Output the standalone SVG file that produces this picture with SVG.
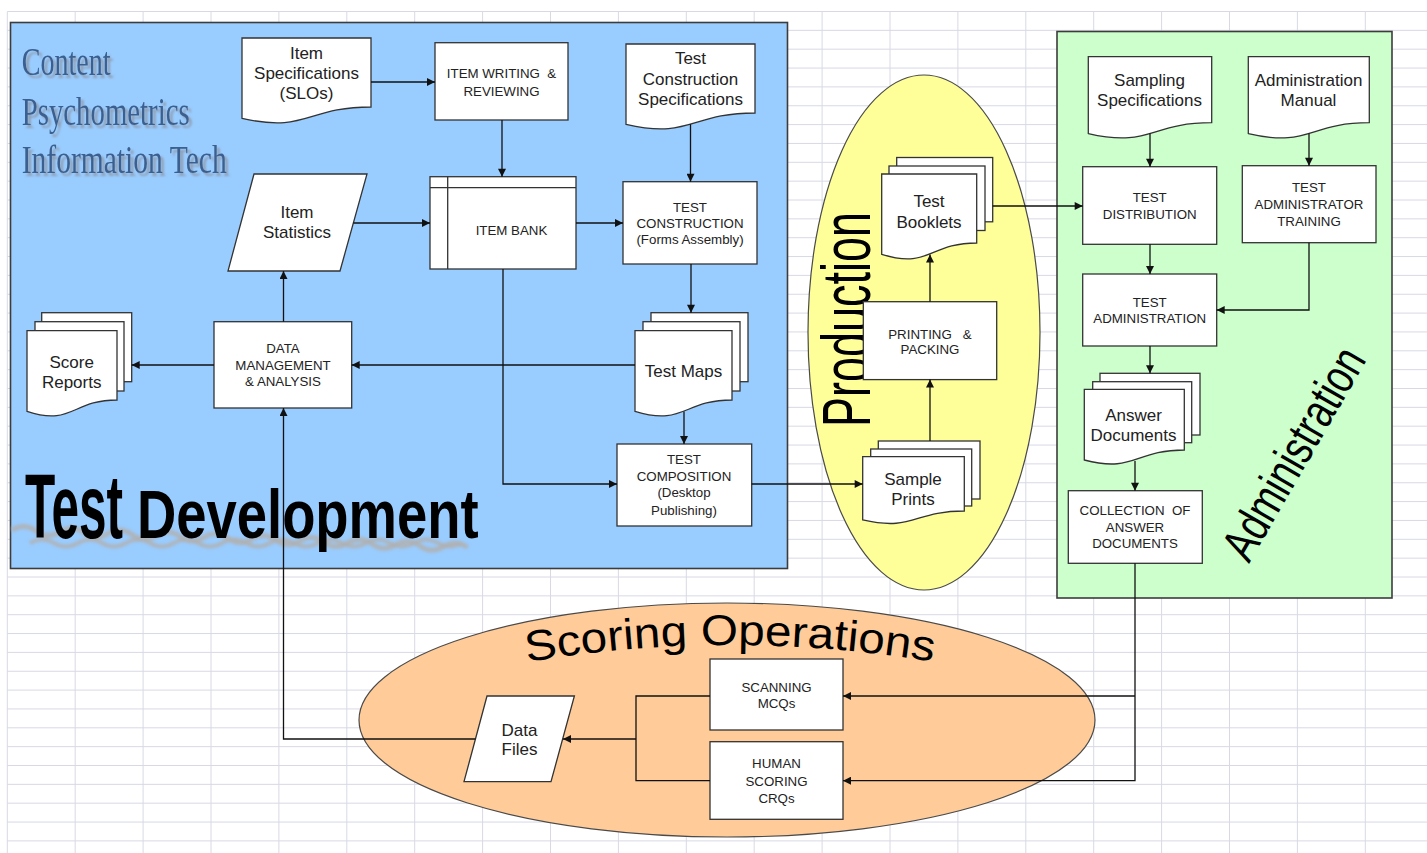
<svg xmlns="http://www.w3.org/2000/svg" width="1427" height="853" viewBox="0 0 1427 853">
<defs>
<style>
.grid{fill:none;stroke:#d8d9e5;stroke-width:1}
.panel{stroke:#3c3c3c;stroke-width:1.6}
.ell{stroke:#4a4a4a;stroke-width:1.2}
.box{fill:#fff;stroke:#333;stroke-width:1.3}
.lbl{font-family:"Liberation Sans",Arial,sans-serif;font-size:13.3px;text-anchor:middle;fill:#222}
.dl{font-family:"Liberation Sans",Arial,sans-serif;font-size:17px;text-anchor:middle;fill:#222}
.conn{fill:none;stroke:#111;stroke-width:1.3}
.big{font-family:"Liberation Sans",Arial,sans-serif;fill:#000}
.ttl{font-family:"Liberation Serif","Times New Roman",serif;font-size:40px;fill:#3b6190}
.pre{white-space:pre}
</style>
<marker id="ah" markerUnits="userSpaceOnUse" markerWidth="9" markerHeight="8" viewBox="0 0 10 10" refX="10" refY="5" orient="auto">
<path d="M0,0 L10,5 L0,10 z" fill="#111"/>
</marker>
<filter id="shd" x="-10%" y="-20%" width="130%" height="150%">
<feDropShadow dx="3" dy="3" stdDeviation="1.2" flood-color="#8e98a8" flood-opacity="0.9"/>
</filter>
<filter id="blur" x="-5%" y="-50%" width="110%" height="200%">
<feGaussianBlur stdDeviation="1.5"/>
</filter>
<path id="scoreArc" d="M527,662 Q730,628 934,662"/>
</defs>

<rect x="0" y="0" width="1427" height="853" fill="#fff"/>
<path class="grid" d="M7.3,11.5V853M75.2,11.5V853M143.1,11.5V853M211,11.5V853M278.9,11.5V853M346.8,11.5V853M414.7,11.5V853M482.6,11.5V853M550.5,11.5V853M618.4,11.5V853M686.3,11.5V853M754.2,11.5V853M822.1,11.5V853M890,11.5V853M957.9,11.5V853M1025.8,11.5V853M1093.7,11.5V853M1161.6,11.5V853M1229.5,11.5V853M1297.4,11.5V853M1365.3,11.5V853
M7.3,11.5H1427M7.3,30.35H1427M7.3,49.2H1427M7.3,68.05H1427M7.3,86.9H1427M7.3,105.75H1427M7.3,124.6H1427M7.3,143.45H1427M7.3,162.3H1427M7.3,181.15H1427M7.3,200H1427M7.3,218.85H1427M7.3,237.7H1427M7.3,256.55H1427M7.3,275.4H1427M7.3,294.25H1427M7.3,313.1H1427M7.3,331.95H1427M7.3,350.8H1427M7.3,369.65H1427M7.3,388.5H1427M7.3,407.35H1427M7.3,426.2H1427M7.3,445.05H1427M7.3,463.9H1427M7.3,482.75H1427M7.3,501.6H1427M7.3,520.45H1427M7.3,539.3H1427M7.3,558.15H1427M7.3,577H1427M7.3,595.85H1427M7.3,614.7H1427M7.3,633.55H1427M7.3,652.4H1427M7.3,671.25H1427M7.3,690.1H1427M7.3,708.95H1427M7.3,727.8H1427M7.3,746.65H1427M7.3,765.5H1427M7.3,784.35H1427M7.3,803.2H1427M7.3,822.05H1427M7.3,840.9H1427"/>

<g id="areas">
<rect id="test-development-area" class="panel" x="10.5" y="22.5" width="777" height="546" fill="#99ccff"/>
<rect id="administration-area" class="panel" x="1057" y="31.5" width="335" height="566.5" fill="#ccffcc"/>
<ellipse id="production-area" class="ell" cx="924" cy="332.5" rx="116" ry="257.5" fill="#ffff99"/>
<ellipse id="scoring-area" class="ell" cx="727" cy="720" rx="368" ry="117" fill="#ffcc99"/>
</g>

<g id="titles">
<g filter="url(#shd)">
<text class="ttl" x="21.7" y="75" textLength="89" lengthAdjust="spacingAndGlyphs">Content</text>
<text class="ttl" x="21.7" y="125" textLength="168" lengthAdjust="spacingAndGlyphs">Psychometrics</text>
<text class="ttl" x="21.7" y="173" textLength="205" lengthAdjust="spacingAndGlyphs">Information Tech</text>
</g>
<g filter="url(#blur)" fill="none" stroke="#b0b0b0" stroke-opacity="0.85">
<path d="M12,530 q12,-8 24,0 t24,0 t24,0 t24,0 t24,0 t24,0 t24,0 t24,0 t24,0 t24,0 t24,0 t24,0 t24,0 t24,0 t24,0 t24,0 t24,0 t24,0 t24,0" stroke-width="5" transform="rotate(2.2 12 530)"/>
<path d="M30,543 q12,-7 24,0 t24,0 t24,0 t24,0 t24,0 t24,0 t24,0 t24,0 t24,0 t24,0 t24,0 t24,0 t24,0 t24,0 t24,0 t24,0 t24,0 t24,0" stroke-width="4"/>
</g>
<text class="big" transform="translate(25,538) scale(0.55,1)" x="0" y="0" font-size="90" font-weight="bold">Test</text>
<text class="big" transform="translate(137,538) scale(0.8,1)" x="0" y="0" font-size="68" font-weight="bold">Development</text>
<text class="big" transform="translate(870,427) rotate(-90)" x="0" y="0" font-size="68" textLength="215" lengthAdjust="spacingAndGlyphs">Production</text>
<text class="big" transform="translate(1249,564) rotate(-60)" x="0" y="0" font-size="49" textLength="236" lengthAdjust="spacingAndGlyphs">Administration</text>
<text class="big" font-size="43"><textPath href="#scoreArc" textLength="408" lengthAdjust="spacingAndGlyphs">Scoring Operations</textPath></text>
</g>

<g id="item-specifications">
<path class="box" d="M242,38 H371 V107 C306.5,107 306.5,133.2 242,118.3 Z"/>
<text class="dl" x="306.5" y="59">Item</text>
<text class="dl" x="306.5" y="79">Specifications</text>
<text class="dl" x="306.5" y="99">(SLOs)</text>
</g>
<g id="item-writing">
<rect class="box" x="435" y="42.7" width="133" height="77.3"/>
<text class="lbl pre" x="501.5" y="78">ITEM WRITING  &amp;</text>
<text class="lbl" x="501.5" y="96">REVIEWING</text>
</g>
<g id="test-construction-specifications">
<path class="box" d="M626,44 H755 V113 C690.5,113 690.5,139.2 626,124.3 Z"/>
<text class="dl" x="690.5" y="64">Test</text>
<text class="dl" x="690.5" y="84.5">Construction</text>
<text class="dl" x="690.5" y="105">Specifications</text>
</g>
<g id="item-statistics">
<path class="box" d="M254,174 L367,174 L340,271 L228,271 Z"/>
<text class="dl" x="297" y="218">Item</text>
<text class="dl" x="297" y="238">Statistics</text>
</g>
<g id="item-bank">
<rect class="box" x="430" y="176.7" width="146" height="92.3"/>
<path class="box" d="M447.7,176.7 V269 M430,187.7 H576" fill="none"/>
<text class="lbl" x="511.5" y="235">ITEM BANK</text>
</g>
<g id="test-construction">
<rect class="box" x="623" y="181.7" width="134" height="82.3"/>
<text class="lbl" x="690" y="211.5">TEST</text>
<text class="lbl" x="690" y="227.5">CONSTRUCTION</text>
<text class="lbl" x="690" y="244">(Forms Assembly)</text>
</g>
<g id="score-reports">
<rect class="box" x="41.7" y="312.7" width="90" height="69"/>
<rect class="box" x="35" y="321.7" width="89" height="69.3"/>
<path class="box" d="M27,330.7 H117 V400 C72,400 72,426.3 27,411.4 Z"/>
<text class="dl" x="71.7" y="368">Score</text>
<text class="dl" x="71.7" y="388">Reports</text>
</g>
<g id="data-management">
<rect class="box" x="214" y="321.7" width="137.7" height="86.3"/>
<text class="lbl" x="283" y="353">DATA</text>
<text class="lbl" x="283" y="370">MANAGEMENT</text>
<text class="lbl" x="283" y="386">&amp; ANALYSIS</text>
</g>
<g id="test-maps">
<rect class="box" x="651" y="312.7" width="97" height="69"/>
<rect class="box" x="643" y="321.7" width="97" height="69.3"/>
<path class="box" d="M635,330.7 H732 V400 C683.5,400 683.5,426.3 635,411.4 Z"/>
<text class="dl" x="683.5" y="377">Test Maps</text>
</g>
<g id="test-composition">
<rect class="box" x="617" y="444" width="134.7" height="82"/>
<text class="lbl" x="684" y="464">TEST</text>
<text class="lbl" x="684" y="480.5">COMPOSITION</text>
<text class="lbl" x="684" y="497">(Desktop</text>
<text class="lbl" x="684" y="514.5">Publishing)</text>
</g>
<g id="test-booklets">
<rect class="box" x="896.7" y="157.5" width="96" height="64.3"/>
<rect class="box" x="889" y="166" width="96" height="64.5"/>
<path class="box" d="M881.7,174 H976.7 V243 C929.2,243 929.2,269.2 881.7,254.3 Z"/>
<text class="dl" x="929" y="207">Test</text>
<text class="dl" x="929" y="228">Booklets</text>
</g>
<g id="printing-packing">
<rect class="box" x="863.3" y="301.7" width="133.4" height="77.9"/>
<text class="lbl pre" x="930" y="338.6">PRINTING   &amp;</text>
<text class="lbl" x="930" y="354">PACKING</text>
</g>
<g id="sample-prints">
<rect class="box" x="878.3" y="441" width="101.7" height="58"/>
<rect class="box" x="870.7" y="449" width="101" height="57"/>
<path class="box" d="M862.7,456.7 H964.3 V511 C913.5,511 913.5,531.6 862.7,519.9 Z"/>
<text class="dl" x="913" y="484.5">Sample</text>
<text class="dl" x="913" y="505">Prints</text>
</g>
<g id="sampling-specifications">
<path class="box" d="M1088.3,56.7 H1211.7 V122.7 C1150,122.7 1150,147.8 1088.3,133.6 Z"/>
<text class="dl" x="1149.5" y="86">Sampling</text>
<text class="dl" x="1149.5" y="105.5">Specifications</text>
</g>
<g id="administration-manual">
<path class="box" d="M1248.3,56.7 H1369.3 V122.7 C1308.8,122.7 1308.8,147.8 1248.3,133.6 Z"/>
<text class="dl" x="1308.5" y="86">Administration</text>
<text class="dl" x="1308.5" y="105.5">Manual</text>
</g>
<g id="test-distribution">
<rect class="box" x="1082.7" y="166.7" width="134" height="77.6"/>
<text class="lbl" x="1149.7" y="201.5">TEST</text>
<text class="lbl" x="1149.7" y="219">DISTRIBUTION</text>
</g>
<g id="administrator-training">
<rect class="box" x="1242.3" y="165.7" width="133.7" height="77"/>
<text class="lbl" x="1309" y="191.5">TEST</text>
<text class="lbl" x="1309" y="209">ADMINISTRATOR</text>
<text class="lbl" x="1309" y="225.5">TRAINING</text>
</g>
<g id="test-administration">
<rect class="box" x="1082.7" y="274" width="134" height="72"/>
<text class="lbl" x="1149.7" y="306.5">TEST</text>
<text class="lbl" x="1149.7" y="323">ADMINISTRATION</text>
</g>
<g id="answer-documents">
<rect class="box" x="1100" y="373.3" width="100" height="61.7"/>
<rect class="box" x="1092.7" y="381.7" width="99" height="61"/>
<path class="box" d="M1084.3,389.3 H1184.3 V450 C1134.3,450 1134.3,473.1 1084.3,460 Z"/>
<text class="dl" x="1133.5" y="421">Answer</text>
<text class="dl" x="1133.5" y="441">Documents</text>
</g>
<g id="collection">
<rect class="box" x="1068.3" y="490.7" width="134" height="72.6"/>
<text class="lbl pre" x="1135" y="515">COLLECTION  OF</text>
<text class="lbl" x="1135" y="532">ANSWER</text>
<text class="lbl" x="1135" y="548">DOCUMENTS</text>
</g>
<g id="scanning">
<rect class="box" x="710" y="659" width="133" height="71"/>
<text class="lbl" x="776.5" y="691.5">SCANNING</text>
<text class="lbl" x="776.5" y="708">MCQs</text>
</g>
<g id="human-scoring">
<rect class="box" x="710" y="741.7" width="133" height="77.6"/>
<text class="lbl" x="776.5" y="768">HUMAN</text>
<text class="lbl" x="776.5" y="785.5">SCORING</text>
<text class="lbl" x="776.5" y="803">CRQs</text>
</g>
<g id="data-files">
<path class="box" d="M487,696 L574.4,696 L551,781.7 L464,781.7 Z"/>
<text class="dl" x="519.5" y="735.5">Data</text>
<text class="dl" x="519.5" y="754.5">Files</text>
</g>

<g id="connectors" class="conn">
<path d="M371,82 H435" marker-end="url(#ah)"/>
<path d="M502,120 V176.7" marker-end="url(#ah)"/>
<path d="M690.5,124.2 V181.7" marker-end="url(#ah)"/>
<path d="M576,223 H623" marker-end="url(#ah)"/>
<path d="M353.4,223 H430" marker-end="url(#ah)"/>
<path d="M691,264 V312.7" marker-end="url(#ah)"/>
<path d="M283.5,321.7 V271" marker-end="url(#ah)"/>
<path d="M635,365 H351.7" marker-end="url(#ah)"/>
<path d="M214,365 H131.7" marker-end="url(#ah)"/>
<path d="M684,411.5 V444" marker-end="url(#ah)"/>
<path d="M503,269 V484 H617" marker-end="url(#ah)"/>
<path d="M751.7,484 H862.7" marker-end="url(#ah)"/>
<path d="M930,441 V379.6" marker-end="url(#ah)"/>
<path d="M930,301.7 V254.5" marker-end="url(#ah)"/>
<path d="M992.7,206 H1082.7" marker-end="url(#ah)"/>
<path d="M1150,133.5 V166.7" marker-end="url(#ah)"/>
<path d="M1309,133.5 V165.7" marker-end="url(#ah)"/>
<path d="M1150,244.3 V274" marker-end="url(#ah)"/>
<path d="M1309,242.7 V310 H1216.7" marker-end="url(#ah)"/>
<path d="M1150,346 V373.3" marker-end="url(#ah)"/>
<path d="M1135,461 V490.7" marker-end="url(#ah)"/>
<path d="M1135,563.3 V780.7 H843" marker-end="url(#ah)"/>
<path d="M1135,696 H843" marker-end="url(#ah)"/>
<path d="M710,696 H636 V780.7 H710"/>
<path d="M636,739 H563" marker-end="url(#ah)"/>
<path d="M475.5,739 H283.5 V408" marker-end="url(#ah)"/>
</g>
</svg>
